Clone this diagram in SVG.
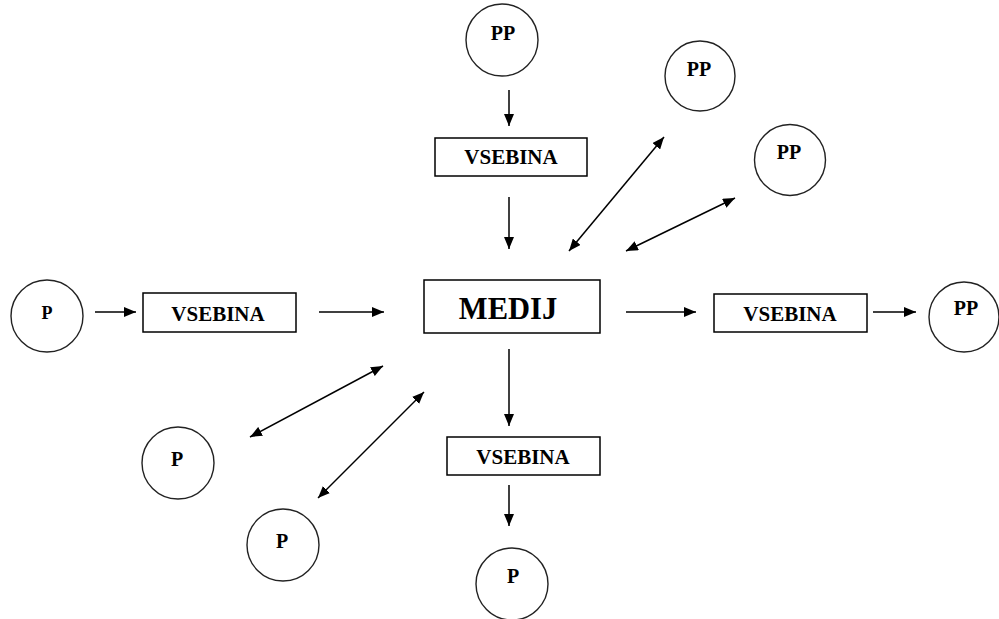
<svg xmlns="http://www.w3.org/2000/svg" width="999" height="619" viewBox="0 0 999 619">
<style>
.box{fill:#fff;stroke:#000;stroke-width:1.5}
.circ{fill:#fff;stroke:#222;stroke-width:1.4}
text{font-family:'Liberation Serif','Times New Roman',serif;font-weight:bold;fill:#000;text-anchor:middle}
.vs{font-size:21px}
.pp{font-size:20px}
.med{font-size:30.5px}
.ln{stroke:#000;stroke-width:1.5;fill:none}
</style>
<defs>
<marker id="ah" viewBox="0 0 12 10" refX="12" refY="5" markerWidth="12" markerHeight="10" markerUnits="userSpaceOnUse" orient="auto-start-reverse">
<path d="M0,0 L12,5 L0,10 z" fill="#000"/>
</marker>
</defs>
<rect width="999" height="619" fill="#fff"/>
<g id="connectors">
<line class="ln" x1="509" y1="90" x2="509" y2="126" marker-end="url(#ah)"/>
<line class="ln" x1="509" y1="197" x2="509" y2="249" marker-end="url(#ah)"/>
<line class="ln" x1="95" y1="312" x2="136" y2="312" marker-end="url(#ah)"/>
<line class="ln" x1="319" y1="312" x2="384" y2="312" marker-end="url(#ah)"/>
<line class="ln" x1="626" y1="312" x2="696" y2="312" marker-end="url(#ah)"/>
<line class="ln" x1="873" y1="312" x2="916" y2="312" marker-end="url(#ah)"/>
<line class="ln" x1="509" y1="349" x2="509" y2="426" marker-end="url(#ah)"/>
<line class="ln" x1="509" y1="485" x2="509" y2="526" marker-end="url(#ah)"/>
<line class="ln" x1="569" y1="251" x2="664" y2="137" marker-start="url(#ah)" marker-end="url(#ah)"/>
<line class="ln" x1="626" y1="251" x2="735" y2="198" marker-start="url(#ah)" marker-end="url(#ah)"/>
<line class="ln" x1="250" y1="437" x2="383" y2="366" marker-start="url(#ah)" marker-end="url(#ah)"/>
<line class="ln" x1="318" y1="498" x2="424" y2="392" marker-start="url(#ah)" marker-end="url(#ah)"/>
</g>
<g id="pp-top"><circle class="circ" cx="502" cy="40" r="36"/><text class="pp" x="503" y="40">PP</text></g>
<g id="pp-2"><circle class="circ" cx="700" cy="76" r="35"/><text class="pp" x="699" y="76">PP</text></g>
<g id="pp-3"><circle class="circ" cx="790" cy="160" r="35.5"/><text class="pp" x="789" y="159">PP</text></g>
<g id="pp-right"><circle class="circ" cx="964" cy="317" r="35"/><text class="pp" x="966" y="315">PP</text></g>
<g id="p-left"><circle class="circ" cx="47" cy="316" r="36"/><text x="47" y="319" font-size="18">P</text></g>
<g id="p-1"><circle class="circ" cx="178" cy="463" r="36"/><text class="pp" x="177" y="466">P</text></g>
<g id="p-2"><circle class="circ" cx="283" cy="545" r="36"/><text class="pp" x="282" y="548">P</text></g>
<g id="p-bottom"><circle class="circ" cx="512" cy="584" r="36"/><text class="pp" x="513" y="583">P</text></g>
<g id="vsebina-top"><rect class="box" x="435" y="138" width="152" height="38"/><text class="vs" x="511" y="164">VSEBINA</text></g>
<g id="vsebina-left"><rect class="box" x="143" y="293" width="153" height="39"/><text class="vs" x="218" y="321">VSEBINA</text></g>
<g id="medij"><rect class="box" x="424" y="280" width="176" height="53"/><text class="med" x="508" y="319">MEDIJ</text></g>
<g id="vsebina-right"><rect class="box" x="714" y="294" width="153" height="38"/><text class="vs" x="790" y="321">VSEBINA</text></g>
<g id="vsebina-bottom"><rect class="box" x="447" y="437" width="153" height="38"/><text class="vs" x="523" y="464">VSEBINA</text></g>
</svg>
